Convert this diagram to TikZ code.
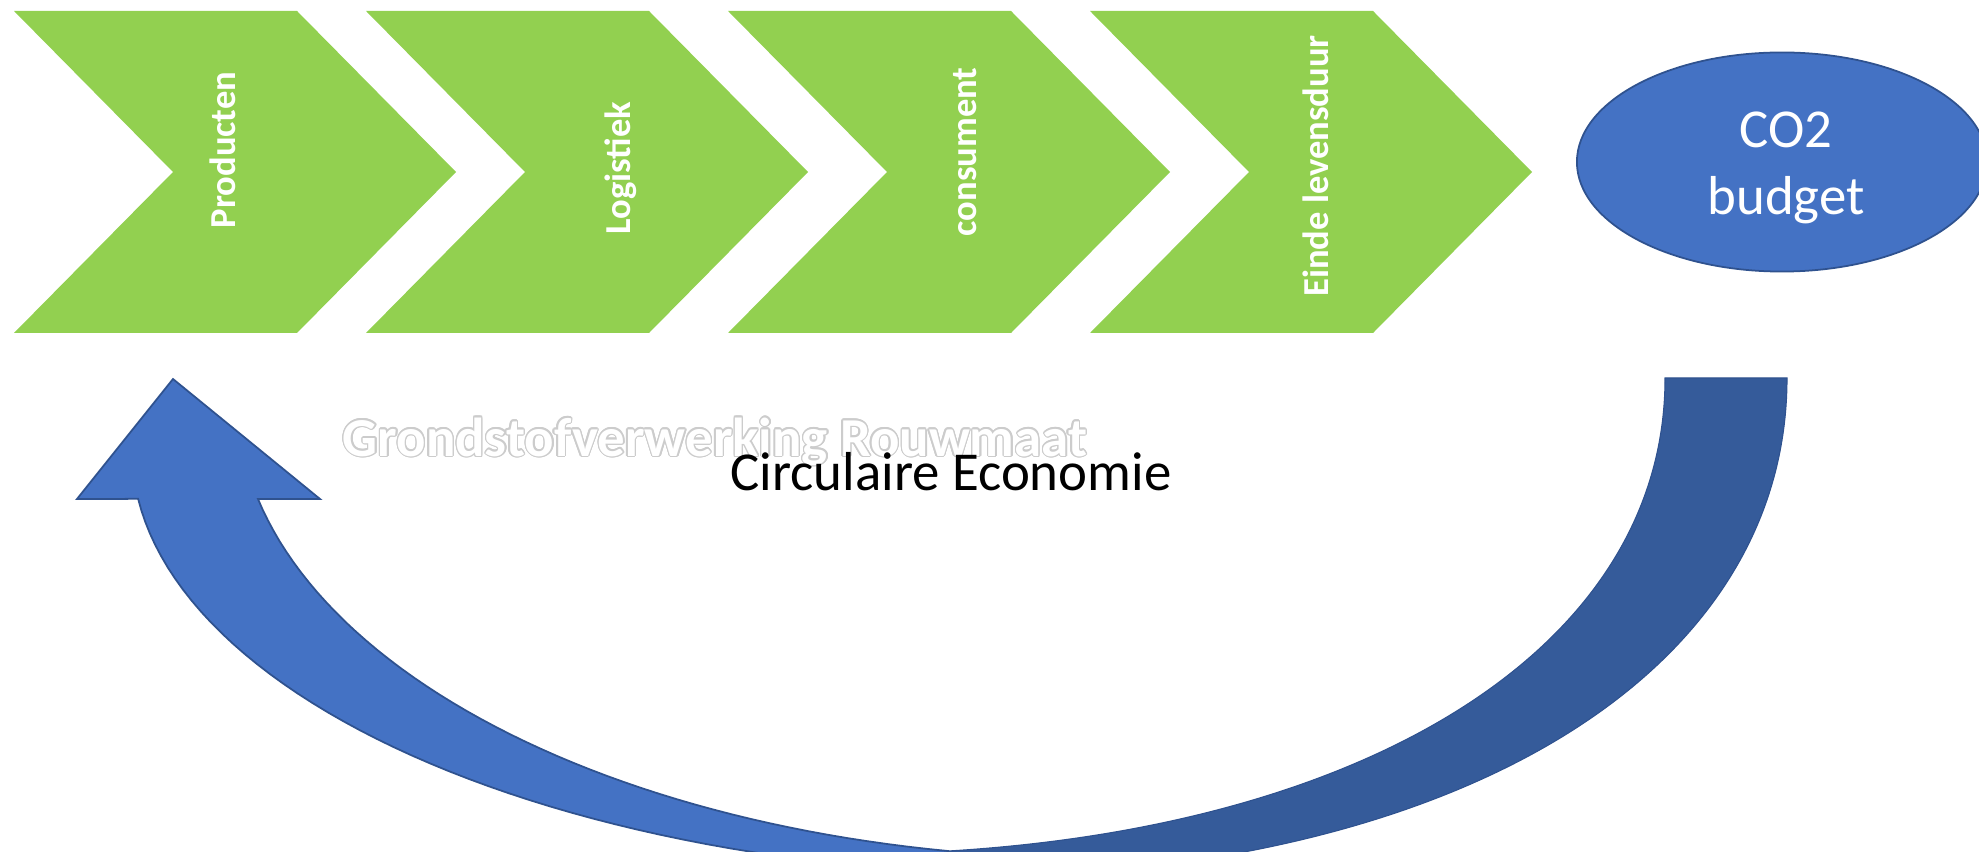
\documentclass[tikz,border=0pt]{standalone}
\usepackage{fontspec}
\setmainfont{Carlito}
\usepackage[copies]{contour}
\usetikzlibrary{shapes.geometric}

\definecolor{chevgreen}{HTML}{92D050}
\definecolor{loopblue}{HTML}{4472C4}
\definecolor{loopdark}{HTML}{355B9A}
\definecolor{edgeblue}{HTML}{2F528F}
\contourlength{0.4pt}

\begin{document}
\begin{tikzpicture}[x=0.01cm, y=-0.01cm,
  chevron/.style={fill=chevgreen},
  steplabel/.style={rotate=90, text=white, inner sep=0pt,
    font=\fontsize{10.4}{12}\selectfont\bfseries, text height=0.7em, text depth=0.2em},
  bigtext/.style={anchor=base, inner sep=0pt, font=\fontsize{15.6}{19}\selectfont},
  frontloop/.style={fill=loopblue, draw=edgeblue, line width=0.5pt, line join=miter},
  backloop/.style={fill=loopdark, draw=edgeblue, line width=0.3pt},
  budget/.style={ellipse, fill=loopblue, draw=edgeblue, line width=0.5pt,
    minimum width=4.1cm, minimum height=2.19cm, inner sep=0pt}]
  \useasboundingbox (0,0) rectangle (1979,852);
  \clip (0,0) rectangle (1979,852);

  % Draw chevrons
  \foreach \x in {14,366,728,1090} {
    \fill[chevron] (\x,11) -- ++(283,0) -- ++(159,161) -- ++(-159,161)
      -- ++(-283,0) -- ++(159,-161) -- cycle;
  }

  % Draw chevron labels
  \node[steplabel] (prod) at (227,150) {Producten};
  \node[steplabel] (logi) at (622,168) {Logistiek};
  \node[steplabel] (cons) at (968,152) {consument};
  \node[steplabel] (einde) at (1320,166) {Einde levensduur};

  % Draw budget ellipse
  \node[budget] (co2) at (1782,162) {};
  \node[bigtext, text=white] (co2a) at (1786,148) {CO2};
  \node[bigtext, text=white] (co2b) at (1786,215) {budget};

  % Draw back of the loop
  \filldraw[backloop] (1665,378) -- (1787,378)
    .. controls (1787,678) and (1450,878) .. (950,878)
    -- (948,851)
    .. controls (1368,826) and (1665,648) .. (1665,378)
    -- cycle;

  % Draw front of the loop with its head
  \filldraw[frontloop] (173,379) -- (320,499) -- (258,499)
    -- plot[domain=167.5:100.15, samples=50] ({1100+862.4*cos(\x)}, {400+458.2*sin(\x)})
    -- (950,872)
    -- plot[domain=96.25:173.4, samples=50] ({1050+918*cos(\x)}, {450+425*sin(\x)})
    -- (77,499) -- cycle;

  % Draw titles
  \node[bigtext, text=white, font=\fontsize{15.6}{19}\selectfont\bfseries] (grond)
    at (715,456) {\contour{black!20}{Grondstofverwerking Rouwmaat}};
  \node[bigtext] (circ) at (951,491) {Circulaire Economie};
\end{tikzpicture}
\end{document}
